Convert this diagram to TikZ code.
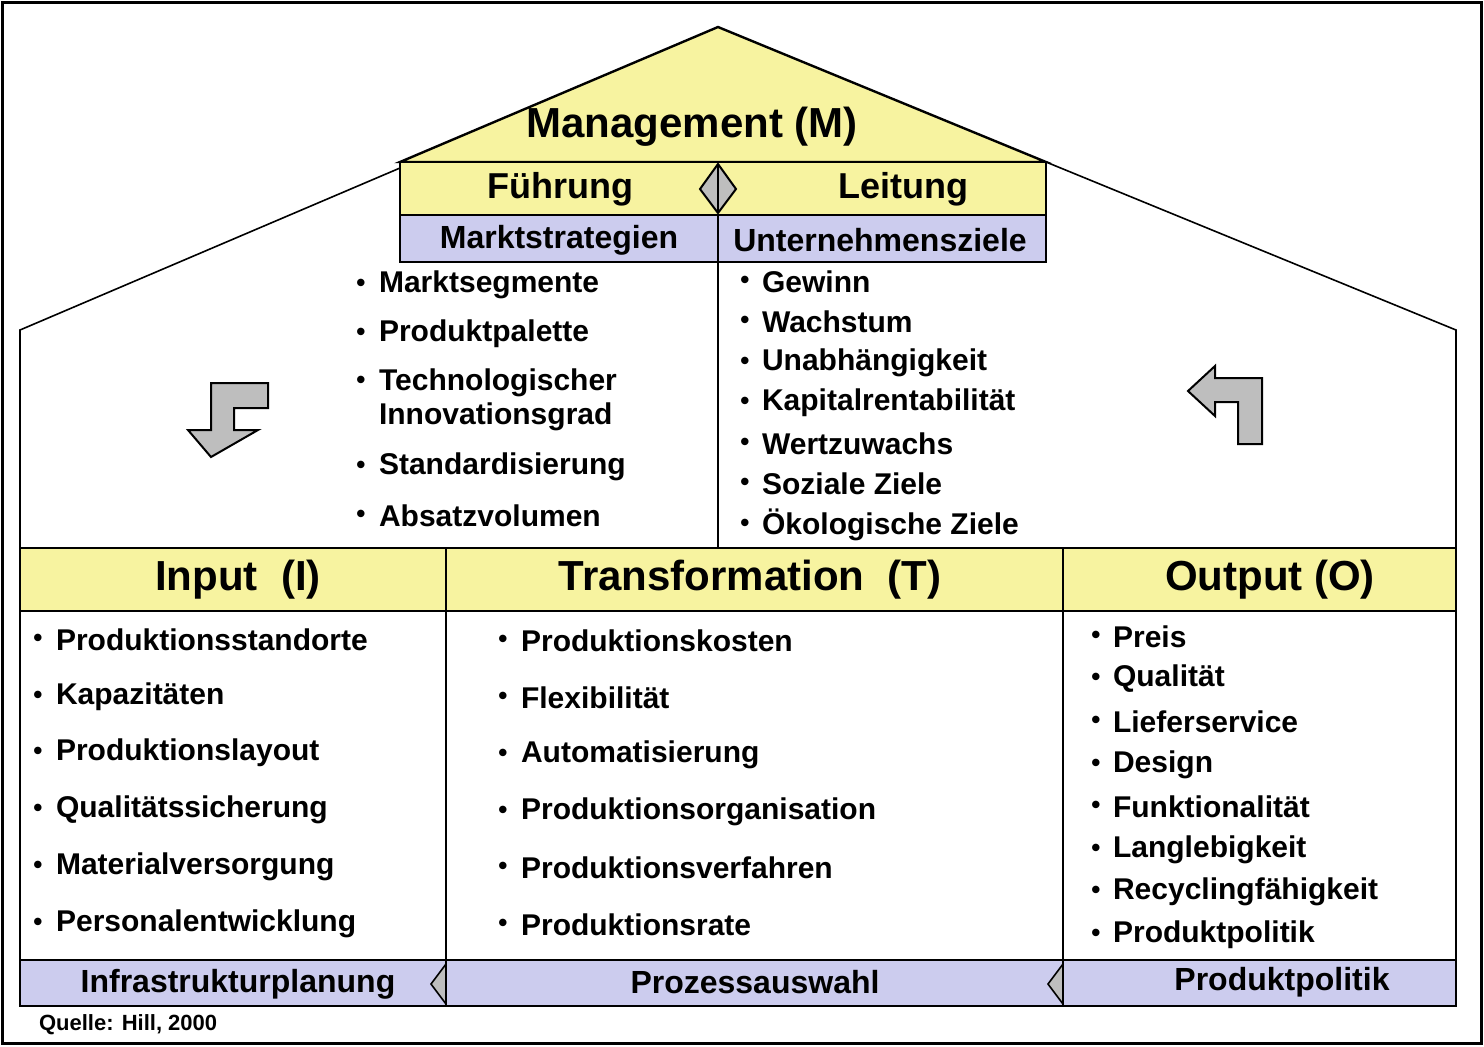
\documentclass[tikz,border=0pt]{standalone}
\usepackage{fontspec}
\setmainfont{Liberation Sans}
\definecolor{roofyellow}{RGB}{247,243,160}
\definecolor{barlav}{RGB}{204,204,238}
\definecolor{arrowgray}{RGB}{190,190,190}
\tikzset{
  box/.style={draw,line width=1.2pt},
  head/.style={font=\bfseries\fontsize{21}{24}\selectfont},
  sub/.style={font=\bfseries\fontsize{16}{19}\selectfont},
  item/.style={anchor=west,font=\bfseries\fontsize{15}{17}\selectfont,align=left},
  dot/.style={anchor=center,font=\bfseries\fontsize{13}{15}\selectfont},
}
\begin{document}
\begin{tikzpicture}[x=0.5pt,y=-0.5pt]
\useasboundingbox (0,0) rectangle (1484,1046);
\draw[line width=1.5pt] (2,2) rectangle (1481,1043);
% roof and walls
\draw[box,fill=roofyellow] (400,162) -- (718,27) -- (1046,162) -- cycle;
\draw[line width=0.8pt] (400,168) -- (20,330) -- (20,548);
\draw[line width=0.8pt] (1046,162) -- (1456,330) -- (1456,548);
\node[head] (mgmt) at (692,127) {Management (M)};
\draw[box,fill=roofyellow] (400,162) rectangle (1046,215);
\node[sub,font=\bfseries\fontsize{18}{21}\selectfont] (fuehr) at (560,189) {Führung};
\node[sub,font=\bfseries\fontsize{18}{21}\selectfont] (leit) at (903,189) {Leitung};
\draw[line width=1pt,fill=arrowgray] (718,164) -- (736,189) -- (718,213) -- (700,189) -- cycle;
\draw[line width=0.6pt] (718,164) -- (718,213);
\draw[box,fill=barlav] (400,215) rectangle (718,262);
\draw[box,fill=barlav] (718,215) rectangle (1046,262);
\node[sub] (markt) at (559,240) {Marktstrategien};
\node[sub] (ziele) at (880,240) {Unternehmensziele};
\draw[line width=0.8pt] (718,262) -- (718,548);
% bent arrows
\draw[line width=1pt,fill=arrowgray] (268,383) -- (268,408) -- (234,408) -- (234,430) -- (258,430)
  -- (211,457) -- (188,430) -- (211,430) -- (211,383) -- cycle;
\draw[line width=1pt,fill=arrowgray] (1238,444) -- (1262,444) -- (1262,378) -- (1215,378) -- (1215,366)
  -- (1188,391) -- (1215,416) -- (1215,402) -- (1238,402) -- cycle;
% lists in the house
\foreach \y/\t in {285/Marktsegmente,334/Produktpalette,400/{Technologischer\\Innovationsgrad},467/Standardisierung,516/Absatzvolumen}
  \node[item] at (372,\y) {\t};
\foreach \y in {285,334,382,467,516} \node[dot] at (361,\y) {•};
\foreach \y/\t in {282/Gewinn,322/Wachstum,363/Unabhängigkeit,403/Kapitalrentabilität,444/Wertzuwachs,484/Soziale Ziele,525/Ökologische Ziele}
  {\node[item] at (755,\y) {\t}; \node[dot] at (745,\y) {•};}
% lower table
\draw[box,fill=roofyellow] (20,548) rectangle (1456,611);
\draw[box] (20,611) rectangle (1456,960);
\draw[line width=0.8pt] (446,548) -- (446,960) (1063,548) -- (1063,960);
\node[head] (input) at (238,580) {Input\ \ (I)};
\node[head] (trans) at (750,580) {Transformation\ \ (T)};
\node[head] (output) at (1270,580) {Output (O)};
\foreach \y/\t in {640/Produktionsstandorte,697/Kapazitäten,753/Produktionslayout,810/Qualitätssicherung,867/Materialversorgung,924/Personalentwicklung}
  {\node[item] at (49,\y) {\t}; \node[dot] at (38,\y) {•};}
\foreach \y/\t in {641/Produktionskosten,698/Flexibilität,755/Automatisierung,812/Produktionsorganisation,868/Produktionsverfahren,925/Produktionsrate}
  {\node[item] at (514,\y) {\t}; \node[dot] at (503,\y) {•};}
\foreach \y/\t in {637/Preis/Image,679/Qualität,722/Lieferservice,765/Design,807/Funktionalität,850/Langlebigkeit,892/Recyclingfähigkeit,935/Produktpolitik}
  {\node[item] at (1106,\y) {\t}; \node[dot] at (1096,\y) {•};}
% bottom bar
\draw[box,fill=barlav] (20,960) rectangle (1456,1006);
\draw[line width=0.8pt] (446,960) -- (446,1006) (1063,960) -- (1063,1006);
\draw[line width=0.8pt,fill=arrowgray] (446,964) -- (431,984) -- (446,1004) -- cycle;
\draw[line width=0.8pt,fill=arrowgray] (1063,964) -- (1048,984) -- (1063,1004) -- cycle;
\node[sub] (infra) at (238,984) {Infrastrukturplanung};
\node[sub] (proz) at (755,982) {Prozessauswahl};
\node[sub] (ppol) at (1282,982) {Produktpolitik};
\node[anchor=west,font=\bfseries\fontsize{11}{13}\selectfont] (quelle) at (32,1025) {Quelle: Hill, 2000};
\end{tikzpicture}
\end{document}
